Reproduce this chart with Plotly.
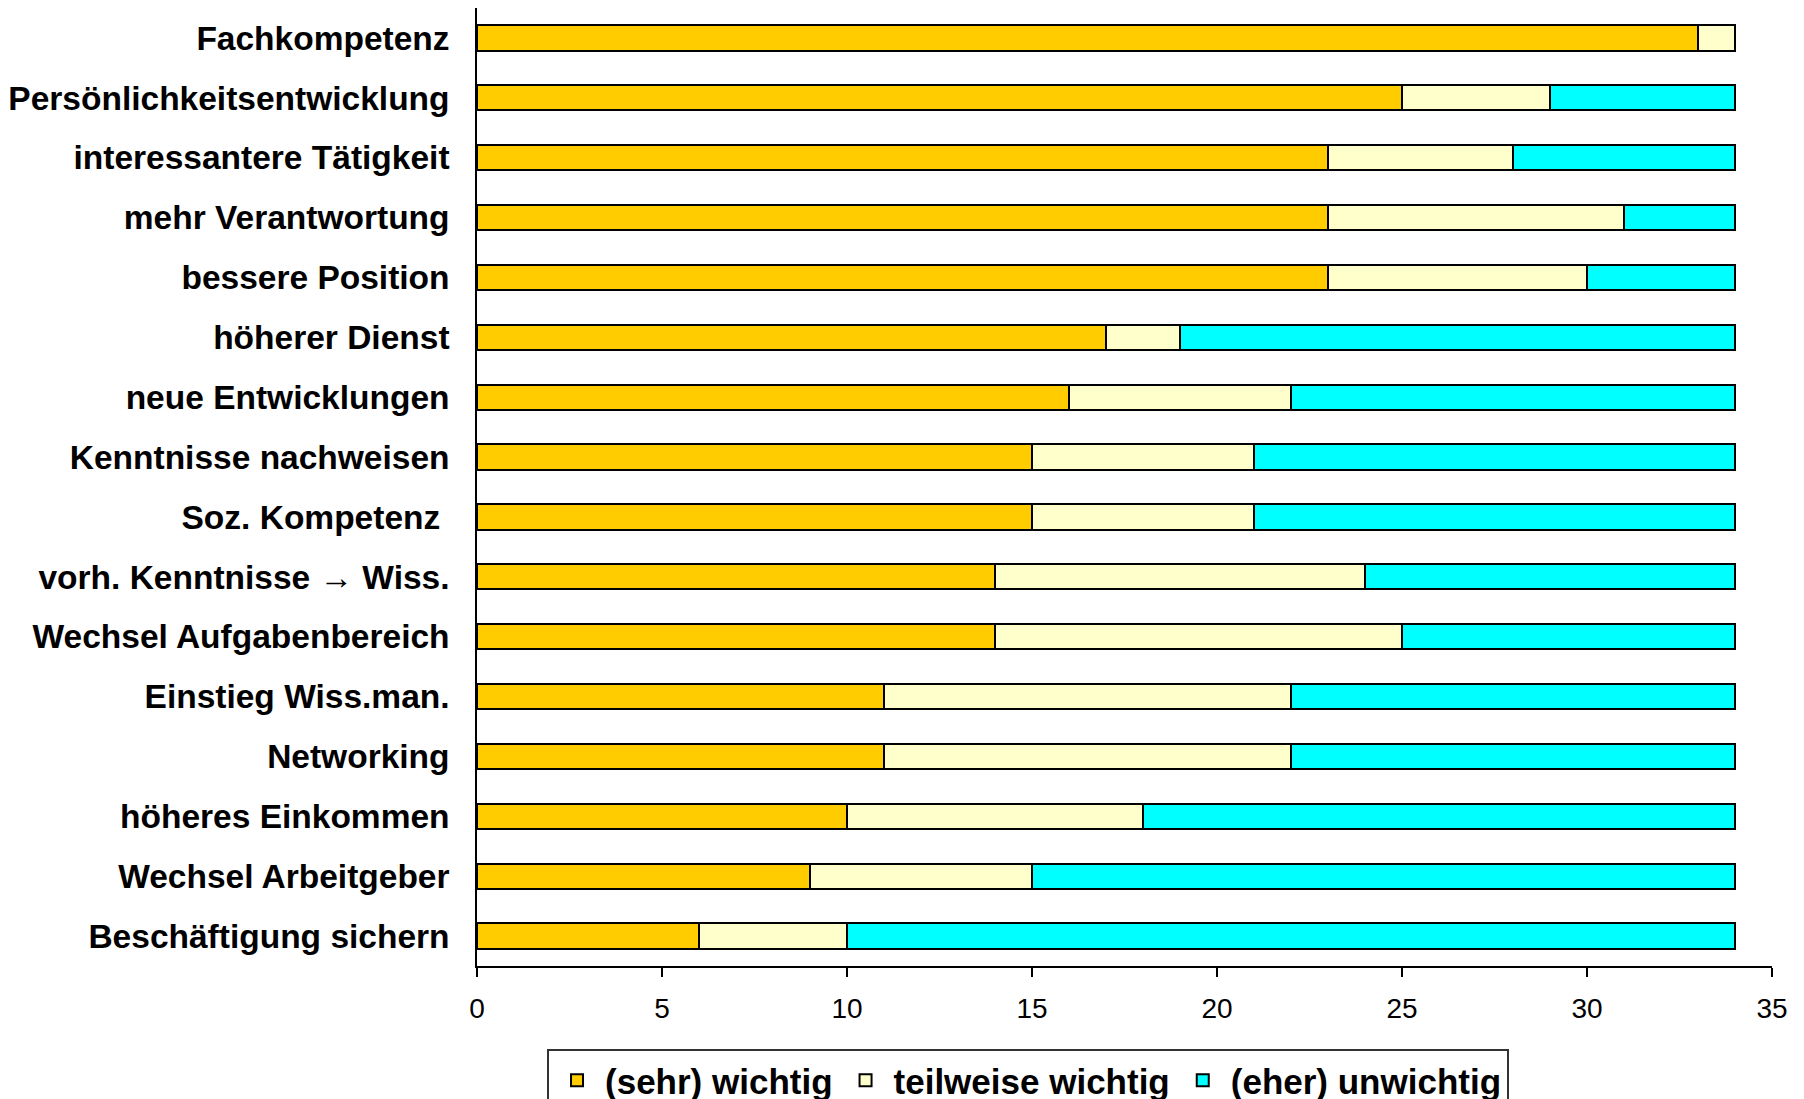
import plotly.graph_objects as go

categories = [
    "Fachkompetenz",
    "Persönlichkeitsentwicklung",
    "interessantere Tätigkeit",
    "mehr Verantwortung",
    "bessere Position",
    "höherer Dienst",
    "neue Entwicklungen",
    "Kenntnisse nachweisen",
    "Soz. Kompetenz\u00a0",
    "vorh. Kenntnisse → Wiss.",
    "Wechsel Aufgabenbereich",
    "Einstieg Wiss.man.",
    "Networking",
    "höheres Einkommen",
    "Wechsel Arbeitgeber",
    "Beschäftigung sichern",
]
sehr_wichtig = [33, 25, 23, 23, 23, 17, 16, 15, 15, 14, 14, 11, 11, 10, 9, 6]
teilweise_wichtig = [1, 4, 5, 8, 7, 2, 6, 6, 6, 10, 11, 11, 11, 8, 6, 4]
eher_unwichtig = [0, 5, 6, 3, 4, 15, 12, 13, 13, 10, 9, 12, 12, 16, 19, 24]

series = [
    ("(sehr) wichtig", sehr_wichtig, "#FFCC00"),
    ("teilweise wichtig", teilweise_wichtig, "#FFFFCC"),
    ("(eher) unwichtig", eher_unwichtig, "#00FFFF"),
]

fig = go.Figure()
for name, vals, color in series:
    fig.add_trace(go.Bar(
        y=categories, x=vals, name=name, orientation="h",
        marker=dict(color=color, line=dict(color="black", width=2)),
    ))

font_family = "Liberation Sans, Arial, sans-serif"
fig.update_layout(
    barmode="stack",
    bargap=0.58,
    width=1804, height=1099,
    margin=dict(l=469, r=40, t=0, b=141, autoexpand=False),
    plot_bgcolor="white", paper_bgcolor="white",
    font=dict(family=font_family, color="black"),
    showlegend=True,
    legend=dict(
        orientation="h", x=0.4255, xanchor="center", y=-0.0866, yanchor="top",
        bordercolor="#333333", borderwidth=2,
        font=dict(size=35, weight="bold"),
        traceorder="normal", itemsizing="constant", itemwidth=46,
    ),
    xaxis=dict(
        range=[0, 35], dtick=5, tick0=0,
        showgrid=False, zeroline=False, automargin=False,
        showline=True, linecolor="black", linewidth=1.5,
        ticks="outside", ticklen=9, tickcolor="black", tickwidth=1.5,
        ticklabelstandoff=8,
        tickfont=dict(size=28),
    ),
    yaxis=dict(
        autorange="reversed", automargin=False,
        showgrid=False, zeroline=False,
        showline=True, linecolor="black", linewidth=1.5,
        ticks="", ticklabelstandoff=19,
        tickfont=dict(size=33.5, weight="bold"),
    ),
)

fig.write_html("out.html")
